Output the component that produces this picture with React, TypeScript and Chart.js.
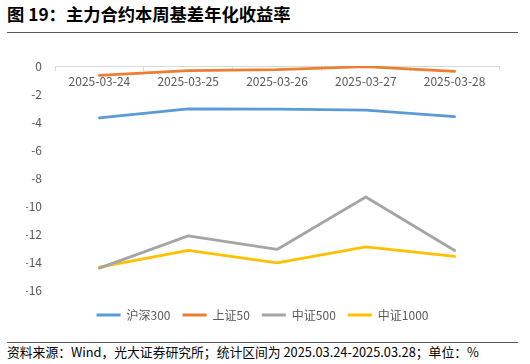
import React, { useEffect, useRef } from "react";
import { Chart, registerables } from "chart.js";

Chart.register(...registerables);

const titleText = "图 19：主力合约本周基差年化收益率";
const footerText = "资料来源：Wind，光大证券研究所；统计区间为 2025.03.24-2025.03.28；单位：%";

const categories = ["2025-03-24", "2025-03-25", "2025-03-26", "2025-03-27", "2025-03-28"];
const seriesNames = ["沪深300", "上证50", "中证500", "中证1000"];
const seriesColors = ["#5B9BD5", "#ED7D31", "#A5A5A5", "#FFC000"];
const hs300 = [-3.69, -3.05, -3.08, -3.14, -3.6];
const sz50 = [-0.67, -0.33, -0.26, -0.05, -0.38];
const zz500 = [-14.4, -12.1, -13.07, -9.33, -13.14];
const zz1000 = [-14.33, -13.14, -14.02, -12.88, -13.57];
const yMin = -16;
const yMax = 0;
const yStep = 2;

const FONT = "'Noto Sans CJK SC', 'Noto Sans', sans-serif";

export default function App() {
  const canvasRef = useRef<HTMLCanvasElement | null>(null);

  useEffect(() => {
    document.body.style.margin = "0";
    const canvas = canvasRef.current;
    if (!canvas) return;
    const values = [hs300, sz50, zz500, zz1000];
    const chart = new Chart(canvas, {
      type: "line",
      data: {
        labels: categories,
        datasets: seriesNames.map((name, i) => ({
          label: name,
          data: values[i],
          borderColor: seriesColors[i],
          backgroundColor: seriesColors[i],
          borderWidth: 2.75,
          borderCapStyle: "round" as const,
          borderJoinStyle: "round" as const,
          pointRadius: 0,
          pointHoverRadius: 0,
          tension: 0,
        })),
      },
      options: {
        responsive: false,
        animation: false,
        layout: { padding: { left: 26, right: 31, top: 26, bottom: 7 } },
        plugins: {
          tooltip: { enabled: false },
          legend: {
            position: "bottom",
            title: { display: true, text: "", font: { size: 2 }, padding: { top: 4, bottom: 0 } },
            labels: {
              font: { family: FONT, size: 12 },
              color: "#595959",
              boxWidth: 24,
              boxHeight: 3,
              padding: 12,
              generateLabels: (ch: any) =>
                Chart.defaults.plugins.legend.labels.generateLabels(ch).map((l: any) => ({
                  ...l,
                  lineWidth: 0,
                })),
            },
          },
        },
        scales: {
          x: {
            type: "category",
            position: { y: 0 } as any,
            offset: true,
            grid: {
              display: true,
              drawOnChartArea: false,
              drawTicks: true,
              tickLength: 4,
              color: "#D9D9D9",
              offset: true,
            },
            border: { display: true, color: "#D9D9D9", width: 1 },
            ticks: {
              font: { family: FONT, size: 12 },
              color: "#595959",
              padding: 4,
              maxRotation: 0,
              autoSkip: false,
            },
          },
          y: {
            type: "linear",
            min: yMin,
            max: yMax,
            afterFit: (scale: any) => {
              scale.width = 29;
            },
            grid: { display: false, drawTicks: false },
            border: { display: false },
            ticks: {
              stepSize: yStep,
              font: { family: FONT, size: 12 },
              color: "#595959",
              padding: 13,
            },
          },
        },
      },
    });
    return () => chart.destroy();
  }, []);

  return (
    <div style={{ position: "relative", width: 530, height: 364, background: "#fff", overflow: "hidden" }}>
      <div
        style={{
          position: "absolute",
          left: 7,
          top: 3,
          fontFamily: FONT,
          fontWeight: 700,
          fontSize: 17.3,
          lineHeight: "22px",
          color: "#000",
          whiteSpace: "nowrap",
        }}
      >
        {titleText}
      </div>
      <div style={{ position: "absolute", left: 7, top: 32, width: 511, height: 0, borderTop: "1.5px solid #595959" }} />
      <canvas
        ref={canvasRef}
        width={530}
        height={298}
        style={{ position: "absolute", left: 0, top: 40, width: 530, height: 298 }}
      />
      <div style={{ position: "absolute", left: 7, top: 342, width: 511, height: 0, borderTop: "1.5px solid #595959" }} />
      <div
        style={{
          position: "absolute",
          left: 7,
          top: 343,
          fontFamily: FONT,
          fontSize: 12.8,
          lineHeight: "18px",
          color: "#000",
          whiteSpace: "nowrap",
        }}
      >
        {footerText}
      </div>
    </div>
  );
}
